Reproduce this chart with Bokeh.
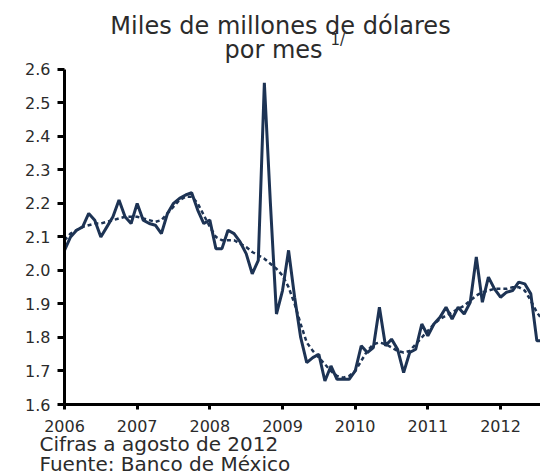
import pandas as pd
from bokeh.plotting import figure
from bokeh.models import Range1d, FixedTicker, PrintfTickFormatter, Label, Title
from bokeh.embed import file_html
from bokeh.resources import INLINE

# ---- data ----
start_month = "2006-01"
remesas = [2.06, 2.10, 2.12, 2.13, 2.17, 2.15, 2.10, 2.13, 2.16, 2.21, 2.16, 2.14,
           2.20, 2.15, 2.14, 2.135, 2.11, 2.17, 2.20, 2.215, 2.225, 2.232, 2.18, 2.14,
           2.15, 2.065, 2.065, 2.12, 2.11, 2.085, 2.05, 1.99, 2.03, 2.56, 2.20, 1.87,
           1.94, 2.06, 1.92, 1.80, 1.725, 1.74, 1.75, 1.67, 1.715, 1.675, 1.675, 1.675,
           1.70, 1.775, 1.755, 1.77, 1.89, 1.775, 1.795, 1.765, 1.695, 1.755, 1.765, 1.84,
           1.805, 1.84, 1.86, 1.89, 1.855, 1.89, 1.87, 1.905, 2.04, 1.905, 1.98, 1.945,
           1.92, 1.935, 1.94, 1.965, 1.96, 1.93, 1.79, 1.79]
tendencia = [2.09, 2.11, 2.12, 2.13, 2.135, 2.14, 2.14, 2.145, 2.15, 2.155, 2.16, 2.16,
             2.16, 2.155, 2.15, 2.145, 2.15, 2.17, 2.19, 2.21, 2.22, 2.22, 2.20, 2.165,
             2.13, 2.10, 2.09, 2.09, 2.09, 2.08, 2.07, 2.055, 2.045, 2.035, 2.02, 2.005,
             1.985, 1.95, 1.90, 1.84, 1.785, 1.76, 1.74, 1.72, 1.70, 1.685, 1.68, 1.685,
             1.70, 1.73, 1.76, 1.78, 1.785, 1.78, 1.77, 1.76, 1.755, 1.76, 1.78, 1.80,
             1.82, 1.84, 1.855, 1.865, 1.875, 1.885, 1.895, 1.91, 1.925, 1.935, 1.94, 1.945,
             1.945, 1.945, 1.95, 1.95, 1.94, 1.91, 1.875, 1.85]
year_ticks = [2006, 2007, 2008, 2009, 2010, 2011, 2012]
year_labels = ["2006", "2007", "2008", "2009", "2010", "2011", "2012"]
y_ticks = [1.6, 1.7, 1.8, 1.9, 2.0, 2.1, 2.2, 2.3, 2.4, 2.5, 2.6]
title_1 = "Miles de millones de dólares"
title_2 = "por mes"
title_sup = "1/"
note_1 = "Cifras a agosto de 2012"
note_2 = "Fuente: Banco de México"

dates = pd.date_range(start_month, periods=len(remesas), freq="MS")
x = [d.year + (d.month - 1) / 12 for d in dates]

NAVY = "#1d3354"
TXT = "#2b2b2b"
FONT = "DejaVu Sans"

W, H = 540, 475
BOTTOM = 70
frame_h = H - BOTTOM
px_per_unit = 336.0                     # pixels for one unit (1.6 -> 2.6)
y_top = 1.6 + frame_h / px_per_unit     # frame reaches up into the title area

p = figure(width=W, height=H, output_backend="svg", toolbar_location=None,
           x_range=Range1d(2006, 2012.55), y_range=Range1d(1.6, y_top),
           min_border_left=64, min_border_right=0, min_border_top=0,
           min_border_bottom=BOTTOM)
p.outline_line_color = None
p.grid.visible = False
p.background_fill_color = "white"
p.border_fill_color = "white"

p.line(x, tendencia, line_color=NAVY, line_width=2.5, line_dash="4 3")
p.line(x, remesas, line_color=NAVY, line_width=3)

for ax in (p.xaxis[0], p.yaxis[0]):
    ax.axis_line_color = "black"
    ax.axis_line_width = 3
    ax.major_tick_line_color = "black"
    ax.major_tick_line_width = 3
    ax.major_tick_in = 0
    ax.minor_tick_line_color = None
    ax.major_label_text_font = FONT
    ax.major_label_text_font_size = "16px"
    ax.major_label_text_color = TXT

p.xaxis.ticker = FixedTicker(ticks=year_ticks)
p.xaxis.major_label_overrides = {t: l for t, l in zip(year_ticks, year_labels)}
p.xaxis.major_tick_out = 5
p.xaxis.major_label_standoff = 10

p.yaxis.ticker = FixedTicker(ticks=y_ticks)
p.yaxis.formatter = PrintfTickFormatter(format="%.1f")
p.yaxis.bounds = (1.6, 2.6)
p.yaxis.major_tick_out = 7
p.yaxis.major_label_standoff = 7

def lab(text, xs, ys, size, align="left"):
    p.add_layout(Label(x=xs, y=ys, x_units="screen", y_units="screen", text=text,
                       text_font=FONT, text_font_size=size, text_color=TXT,
                       text_align=align, text_baseline="alphabetic"))

# positions relative to the frame's lower-left corner (frame bottom = value 1.6)
lab(title_1, 216, 379, "24px", "center")
lab(title_2, 209, 355, "24px", "center")
lab(title_sup, 266, 365, "15px")

for t, so in ((note_1, -10), (note_2, -1)):
    p.add_layout(Title(text=t, align="left", offset=-25, standoff=so,
                       text_font=FONT, text_font_size="20px",
                       text_font_style="normal", text_color=TXT), "below")

open("out.html", "w").write(file_html(p, INLINE))
